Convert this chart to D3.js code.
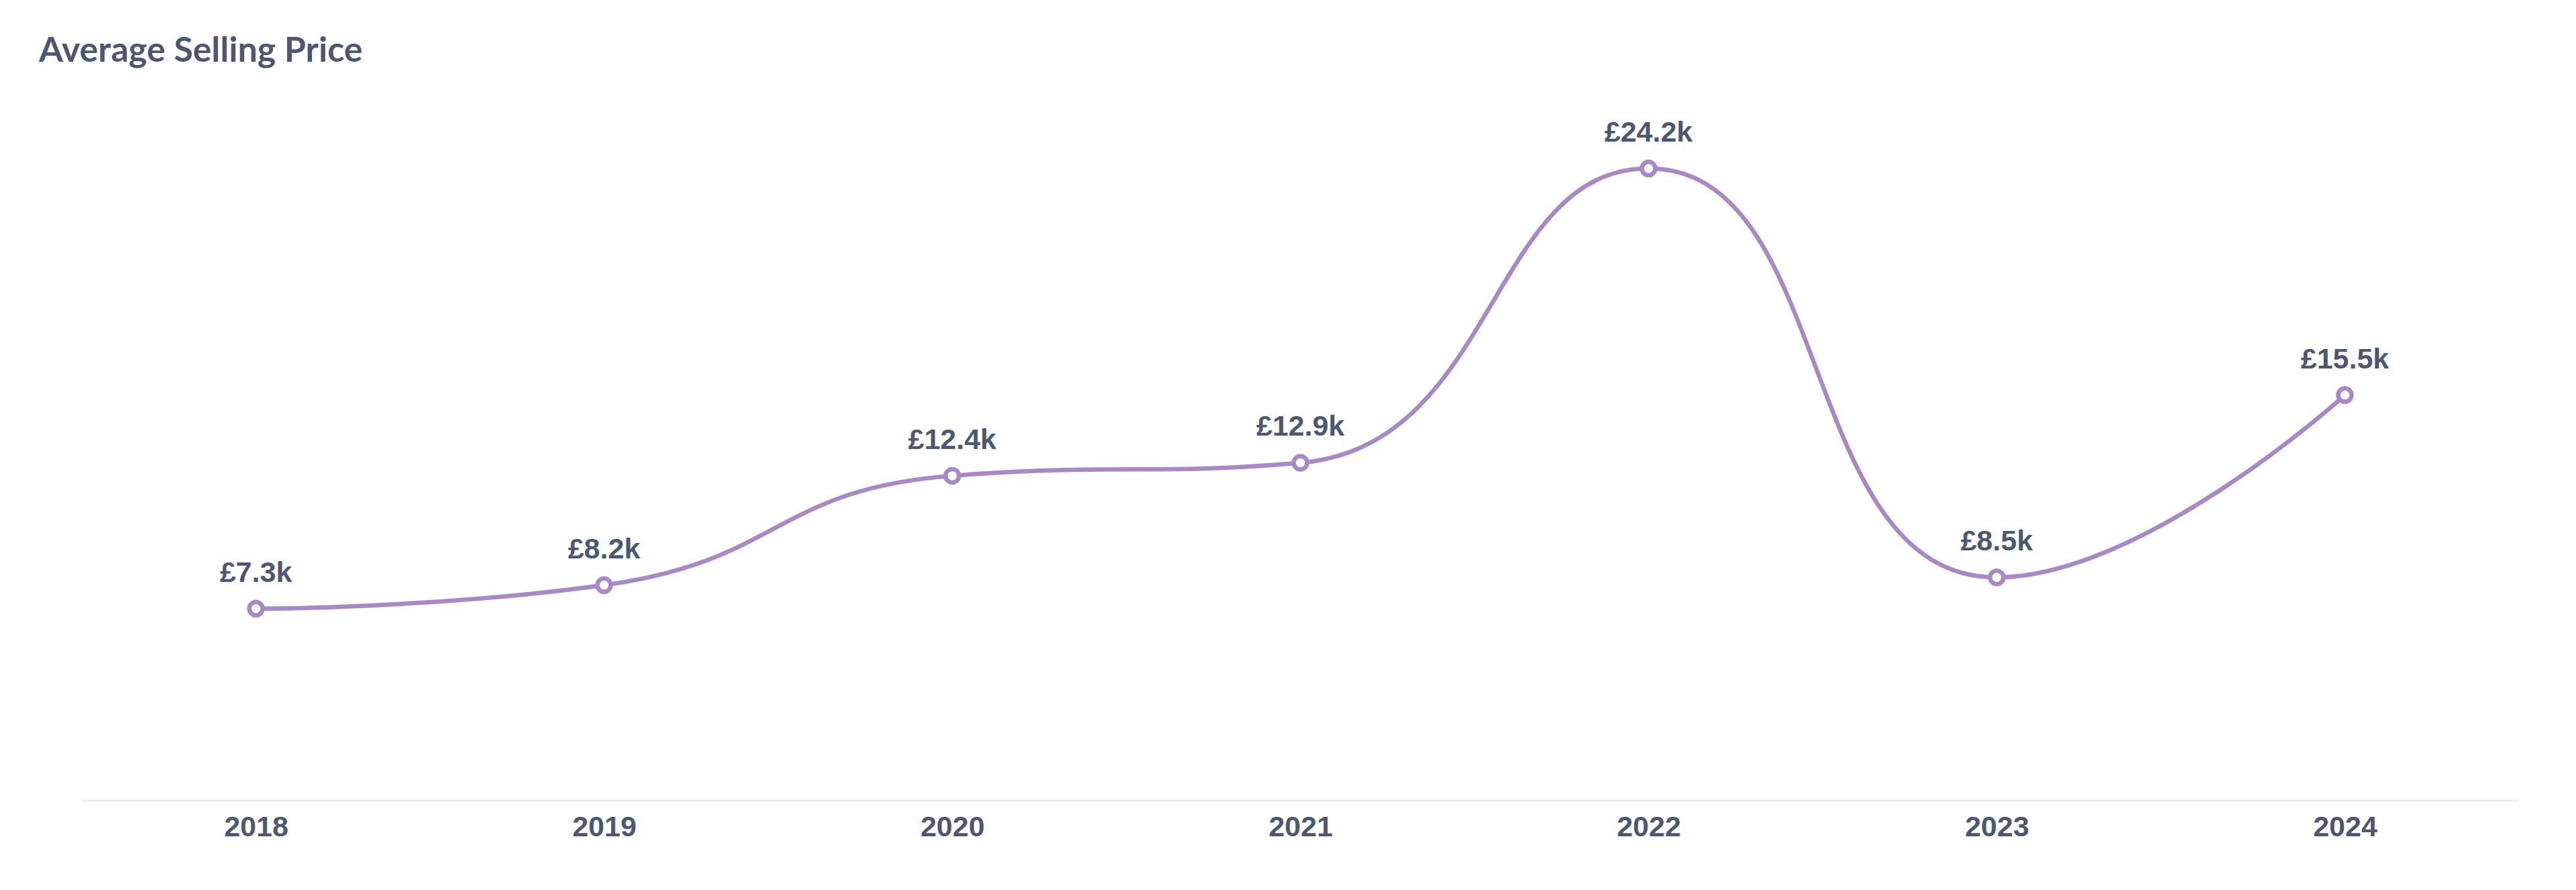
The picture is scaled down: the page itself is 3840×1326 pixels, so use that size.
<!DOCTYPE html>
<html>
<head>
<meta charset="utf-8">
<script src="https://cdn.jsdelivr.net/npm/d3@7"></script>
<style>
  html, body { margin: 0; padding: 0; background: #ffffff; }
  svg { display: block; }
</style>
</head>
<body>
<svg id="chart" width="3840" height="1326"></svg>
<script>
const years = ["2018", "2019", "2020", "2021", "2022", "2023", "2024"];
const avgPrice = [7300, 8200, 12400, 12900, 24200, 8500, 15500];
const priceLabels = ["£7.3k", "£8.2k", "£12.4k", "£12.9k", "£24.2k", "£8.5k", "£15.5k"];
const chartTitle = "Average Selling Price";

const textColor = "#4C5773";
const lineColor = "#A989C5";

// Custom d3 curve: bezier smoothing with control points clamped between neighbours
function SmoothClamped(context) { this._context = context; }
SmoothClamped.prototype = {
  areaStart() {}, areaEnd() {},
  lineStart() { this._pts = []; },
  point(x, y) { this._pts.push([+x, +y]); },
  lineEnd() {
    const p = this._pts, ctx = this._context, smooth = 0.5, n = p.length;
    if (!n) return;
    const clamp = (v, a, b) => Math.max(Math.min(v, Math.max(a, b)), Math.min(a, b));
    ctx.moveTo(p[0][0], p[0][1]);
    let cpx0 = p[0][0], cpy0 = p[0][1];
    for (let i = 1; i < n; i++) {
      const x = p[i][0], y = p[i][1], prevX = p[i - 1][0], prevY = p[i - 1][1];
      let cpx1, cpy1, nextCpx0 = x, nextCpy0 = y;
      if (i === n - 1) { cpx1 = x; cpy1 = y; }
      else {
        const nextX = p[i + 1][0], nextY = p[i + 1][1];
        let vx = nextX - prevX, vy = nextY - prevY;
        const lenPrev = Math.hypot(x - prevX, y - prevY);
        const lenNext = Math.hypot(nextX - x, nextY - y);
        const ratio = lenNext / (lenNext + lenPrev);
        nextCpx0 = clamp(x + vx * smooth * ratio, nextX, x);
        nextCpy0 = clamp(y + vy * smooth * ratio, nextY, y);
        vx = nextCpx0 - x; vy = nextCpy0 - y;
        cpx1 = clamp(x - vx * lenPrev / lenNext, prevX, x);
        cpy1 = clamp(y - vy * lenPrev / lenNext, prevY, y);
        vx = x - cpx1; vy = y - cpy1;
        nextCpx0 = x + vx * lenNext / lenPrev;
        nextCpy0 = y + vy * lenNext / lenPrev;
      }
      ctx.bezierCurveTo(cpx0, cpy0, cpx1, cpy1, x, y);
      cpx0 = nextCpx0; cpy0 = nextCpy0;
    }
  }
};
const curveSmoothClamped = ctx => new SmoothClamped(ctx);

const svg = d3.select("#chart");

svg.append("text")
  .attr("x", 58)
  .attr("y", 92)
  .attr("font-family", "Lato, sans-serif")
  .attr("font-weight", 700)
  .attr("font-size", 52)
  .attr("fill", textColor)
  .text(chartTitle);

const x = d3.scalePoint().domain(years).range([122, 3755]).padding(0.5);
const y = d3.scaleLinear().domain([0, 25000]).range([1190, 220]);

const data = years.map((yr, i) => ({ year: yr, value: avgPrice[i], label: priceLabels[i] }));

// x axis
const xAxis = d3.axisBottom(x).tickSize(0).tickPadding(22);
const gx = svg.append("g").attr("transform", "translate(0,1193)").call(xAxis);
gx.select(".domain").attr("stroke", "#EEECEE").attr("stroke-width", 3)
  .attr("d", "M122,0H3755");
gx.selectAll(".tick text")
  .attr("font-family", "'Liberation Sans', Arial, Helvetica, sans-serif")
  .attr("font-weight", 700)
  .attr("font-size", 43)
  .attr("fill", textColor)
  .attr("dy", "0.71em");

// line
const line = d3.line()
  .x(d => x(d.year))
  .y(d => y(d.value))
  .curve(curveSmoothClamped);

svg.append("path")
  .datum(data)
  .attr("fill", "none")
  .attr("stroke", lineColor)
  .attr("stroke-width", 6.5)
  .attr("d", line);

svg.selectAll("circle.pt")
  .data(data)
  .join("circle")
  .attr("class", "pt")
  .attr("cx", d => x(d.year))
  .attr("cy", d => y(d.value))
  .attr("r", 10)
  .attr("fill", "#ffffff")
  .attr("stroke", lineColor)
  .attr("stroke-width", 6.5);

svg.selectAll("text.lbl")
  .data(data)
  .join("text")
  .attr("class", "lbl")
  .attr("x", d => x(d.year))
  .attr("y", d => y(d.value) - 40)
  .attr("text-anchor", "middle")
  .attr("font-family", "'Liberation Sans', Arial, Helvetica, sans-serif")
  .attr("font-weight", 700)
  .attr("font-size", 43)
  .attr("fill", textColor)
  .text(d => d.label);
</script>
</body>
</html>
